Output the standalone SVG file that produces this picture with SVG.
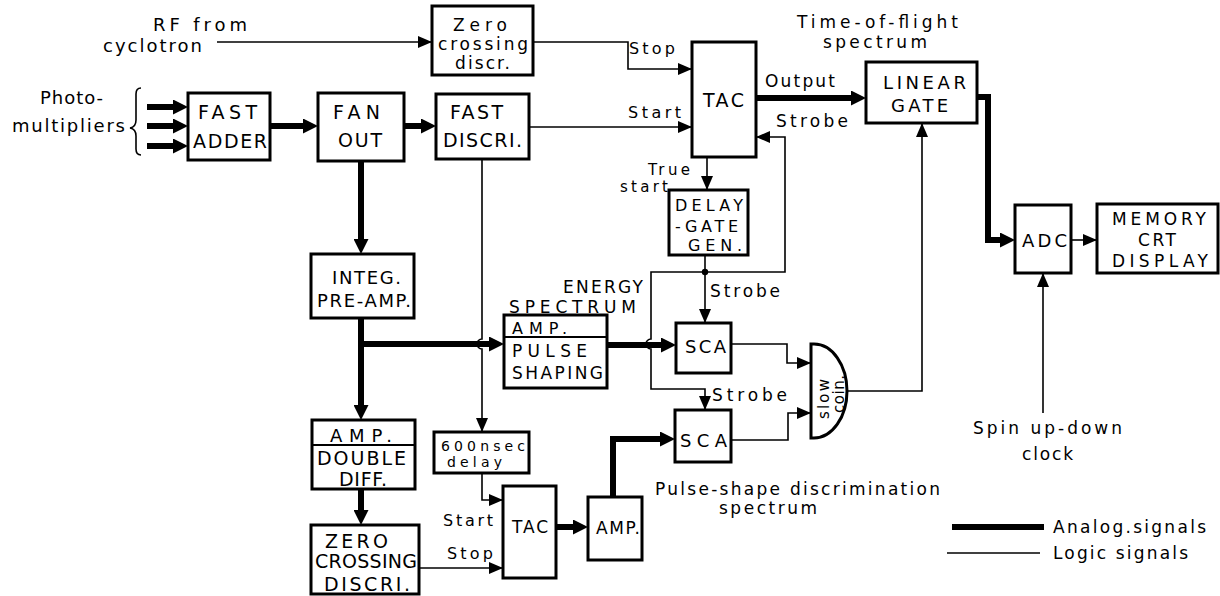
<svg xmlns="http://www.w3.org/2000/svg" width="1220" height="596" viewBox="0 0 1220 596">
<style>
.bx{fill:#fff;stroke:#000;stroke-width:3}
.dv{fill:none;stroke:#000;stroke-width:2}
.thin{fill:none;stroke:#000;stroke-width:1.6}
.thick{fill:none;stroke:#000;stroke-width:6}
text{font-family:"DejaVu Sans","Liberation Sans",Arial,sans-serif;fill:#000}
.s14{font-size:14px}.s15{font-size:15px}.s16{font-size:16px}.s17{font-size:17px}.s18{font-size:18px}.s19{font-size:19px}
</style>
<defs>
<marker id="a" viewBox="0 0 14 12" refX="14" refY="6" markerWidth="14" markerHeight="12" markerUnits="userSpaceOnUse" orient="auto"><path d="M0,0L14,6L0,12z" fill="#000"/></marker>
<marker id="A" viewBox="0 0 15 15" refX="5" refY="7.5" markerWidth="15" markerHeight="15" markerUnits="userSpaceOnUse" orient="auto"><path d="M0,0L15,7.5L0,15z" fill="#000"/></marker>
</defs>
<rect width="1220" height="596" fill="#fff"/>

<g id="connectors">
<path class="thick" d="M147,107H178" marker-end="url(#A)"/>
<path class="thick" d="M147,126H178" marker-end="url(#A)"/>
<path class="thick" d="M147,146H178" marker-end="url(#A)"/>
<path class="thick" d="M270,126H308" marker-end="url(#A)"/>
<path class="thick" d="M404,126H426" marker-end="url(#A)"/>
<path class="thick" d="M361,161V244" marker-end="url(#A)"/>
<path class="thick" d="M361,318V410" marker-end="url(#A)"/>
<path class="thick" d="M361,344H494" marker-end="url(#A)"/>
<path class="thick" d="M607,345H666" marker-end="url(#A)"/>
<path class="thick" d="M756,98H856" marker-end="url(#A)"/>
<path class="thick" d="M977,97H988V240H1005" marker-end="url(#A)"/>
<path class="thick" d="M361,489V515" marker-end="url(#A)"/>
<path class="thick" d="M556,527H578" marker-end="url(#A)"/>
<path class="thick" d="M613,497V439H665" marker-end="url(#A)"/>
<path class="thin" d="M217,42H432" marker-end="url(#a)"/>
<path class="thin" d="M533,42H628V69H692" marker-end="url(#a)"/>
<path class="thin" d="M529,127H692" marker-end="url(#a)"/>
<path class="thin" d="M707,157V190" marker-end="url(#a)"/>
<path class="thin" d="M705,255V323" marker-end="url(#a)"/>
<path class="thin" d="M705,272H785V137H756" marker-end="url(#a)"/>
<path class="thin" d="M705,272H651V339A5,5 0 0 0 651,349V389H705V410" marker-end="url(#a)"/>
<path class="thin" d="M731,344H787V363H811" marker-end="url(#a)"/>
<path class="thin" d="M731,440H788V413H811" marker-end="url(#a)"/>
<path class="thin" d="M847,391H922V123" marker-end="url(#a)"/>
<path class="thin" d="M1071,240H1097" marker-end="url(#a)"/>
<path class="thin" d="M1043,413V273" marker-end="url(#a)"/>
<path class="thin" d="M482,159V339A5,5 0 0 0 482,349V432" marker-end="url(#a)"/>
<path class="thin" d="M482,473V500H503" marker-end="url(#a)"/>
<path class="thin" d="M419,568H503" marker-end="url(#a)"/>
<circle cx="705" cy="272" r="3.2" fill="#000"/>
</g>

<g id="rf-label">
<text class="s18" x="153" y="31" textLength="94">RF from</text>
<text class="s18" x="103" y="52" textLength="99">cyclotron</text>
</g>
<g id="photomultipliers">
<text class="s18" x="40" y="104" textLength="63">Photo-</text>
<text class="s18" x="12" y="132" textLength="113">multipliers</text>
<path class="thin" d="M141,88Q136,88 136,94V120Q136,127 130,128Q136,129 136,136V149Q136,155 141,155"/>
</g>
<g id="fast-adder">
<rect class="bx" x="188" y="93" width="82" height="67"/>
<text class="s19" x="198" y="119" textLength="59">FAST</text>
<text class="s19" x="193" y="148" textLength="74">ADDER</text>
</g>
<g id="fan-out">
<rect class="bx" x="318" y="93" width="86" height="68"/>
<text class="s19" x="333" y="119" textLength="47">FAN</text>
<text class="s19" x="338" y="147" textLength="44">OUT</text>
</g>
<g id="zero-crossing-discr">
<rect class="bx" x="432" y="6" width="101" height="69"/>
<text class="s17" x="453" y="31" textLength="54">Zero</text>
<text class="s17" x="438" y="50" textLength="90">crossing</text>
<text class="s17" x="455" y="69" textLength="55">discr.</text>
</g>
<g id="fast-discri">
<rect class="bx" x="436" y="94" width="93" height="65"/>
<text class="s19" x="450" y="119" textLength="53">FAST</text>
<text class="s19" x="443" y="147" textLength="79">DISCRI.</text>
</g>
<g id="tac1">
<rect class="bx" x="692" y="42" width="64" height="115"/>
<text class="s19" x="703" y="107" textLength="41">TAC</text>
<text class="s16" x="629" y="54" textLength="46">Stop</text>
<text class="s16" x="628" y="118" textLength="53">Start</text>
<text class="s15" x="648" y="175" textLength="42">True</text>
<text class="s15" x="620" y="192" textLength="48">start</text>
<text class="s17" x="765" y="87" textLength="70">Output</text>
<text class="s17" x="776" y="127" textLength="72">Strobe</text>
</g>
<g id="linear-gate">
<text class="s17" x="797" y="28" textLength="161">Time-of-flight</text>
<text class="s17" x="823" y="48" textLength="104">spectrum</text>
<rect class="bx" x="866" y="62" width="111" height="61"/>
<text class="s18" x="883" y="89" textLength="83">LINEAR</text>
<text class="s18" x="891" y="112" textLength="57">GATE</text>
</g>
<g id="delay-gate-gen">
<rect class="bx" x="669" y="190" width="79" height="65"/>
<text class="s16" x="675" y="211" textLength="68">DELAY</text>
<text class="s16" x="675" y="232" textLength="63">-GATE</text>
<text class="s16" x="688" y="251" textLength="54">GEN.</text>
<text class="s17" x="710" y="297" textLength="70">Strobe</text>
</g>
<g id="sca1">
<rect class="bx" x="676" y="323" width="55" height="50"/>
<text class="s18" x="685" y="353" textLength="41">SCA</text>
</g>
<g id="sca2">
<text class="s17" x="712" y="401" textLength="75">Strobe</text>
<rect class="bx" x="675" y="410" width="56" height="52"/>
<text class="s18" x="680" y="447" textLength="47">SCA</text>
</g>
<g id="slow-coin">
<path d="M811,344H814A33,47 0 0 1 814,438H811Z" fill="#fff" stroke="#000" stroke-width="3"/>
<text class="s15" transform="translate(829,419) rotate(-90)" textLength="40">slow</text>
<text class="s15" transform="translate(844,413) rotate(-90)" textLength="38">coin.</text>
</g>
<g id="amp-pulse-shaping">
<text class="s17" x="563" y="293" textLength="80">ENERGY</text>
<text class="s17" x="509" y="313" textLength="127">SPECTRUM</text>
<rect class="bx" x="504" y="315" width="103" height="73"/>
<line class="dv" x1="504" y1="337" x2="607" y2="337"/>
<text class="s16" x="512" y="334" textLength="55">AMP.</text>
<text class="s17" x="512" y="357" textLength="75">PULSE</text>
<text class="s17" x="512" y="379" textLength="91">SHAPING</text>
</g>
<g id="integ-preamp">
<rect class="bx" x="311" y="254" width="103" height="64"/>
<text class="s18" x="332" y="284" textLength="69">INTEG.</text>
<text class="s18" x="317" y="307" textLength="94">PRE-AMP.</text>
</g>
<g id="amp-double-diff">
<rect class="bx" x="312" y="420" width="103" height="69"/>
<line class="dv" x1="312" y1="445" x2="415" y2="445"/>
<text class="s18" x="330" y="442" textLength="62">AMP.</text>
<text class="s19" x="317" y="465" textLength="89">DOUBLE</text>
<text class="s19" x="339" y="486" textLength="48">DIFF.</text>
</g>
<g id="zero-crossing-discri">
<rect class="bx" x="311" y="525" width="108" height="69"/>
<text class="s19" x="325" y="548" textLength="63">ZERO</text>
<text class="s19" x="315" y="568" textLength="102">CROSSING</text>
<text class="s19" x="324" y="591" textLength="86">DISCRI.</text>
</g>
<g id="delay-600ns">
<rect class="bx" x="434" y="432" width="95" height="41"/>
<text class="s14" x="441" y="451" textLength="84">600nsec</text>
<text class="s14" x="447" y="467" textLength="55">delay</text>
</g>
<g id="tac2">
<rect class="bx" x="503" y="486" width="53" height="92"/>
<text class="s17" x="512" y="533" textLength="36">TAC</text>
<text class="s16" x="443" y="526" textLength="50">Start</text>
<text class="s16" x="447" y="559" textLength="46">Stop</text>
</g>
<g id="amp2">
<rect class="bx" x="588" y="497" width="54" height="63"/>
<text class="s17" x="596" y="534" textLength="44">AMP.</text>
</g>
<g id="psd-label">
<text class="s17" x="655" y="495" textLength="285">Pulse-shape discrimination</text>
<text class="s17" x="719" y="514" textLength="98">spectrum</text>
</g>
<g id="adc">
<rect class="bx" x="1015" y="205" width="56" height="68"/>
<text class="s18" x="1022" y="247" textLength="45">ADC</text>
</g>
<g id="memory">
<rect class="bx" x="1097" y="204" width="121" height="69"/>
<text class="s17" x="1112" y="225" textLength="94">MEMORY</text>
<text class="s17" x="1138" y="246" textLength="38">CRT</text>
<text class="s17" x="1112" y="267" textLength="96">DISPLAY</text>
</g>
<g id="spin-clock">
<text class="s17" x="973" y="434" textLength="149">Spin up-down</text>
<text class="s17" x="1022" y="460" textLength="51">clock</text>
</g>
<g id="legend">
<line x1="952" y1="527" x2="1044" y2="527" stroke="#000" stroke-width="6"/>
<text class="s17" x="1053" y="533" textLength="153">Analog.signals</text>
<line x1="947" y1="553" x2="1040" y2="553" stroke="#000" stroke-width="1.6"/>
<text class="s17" x="1053" y="559" textLength="135">Logic signals</text>
</g>
</svg>
